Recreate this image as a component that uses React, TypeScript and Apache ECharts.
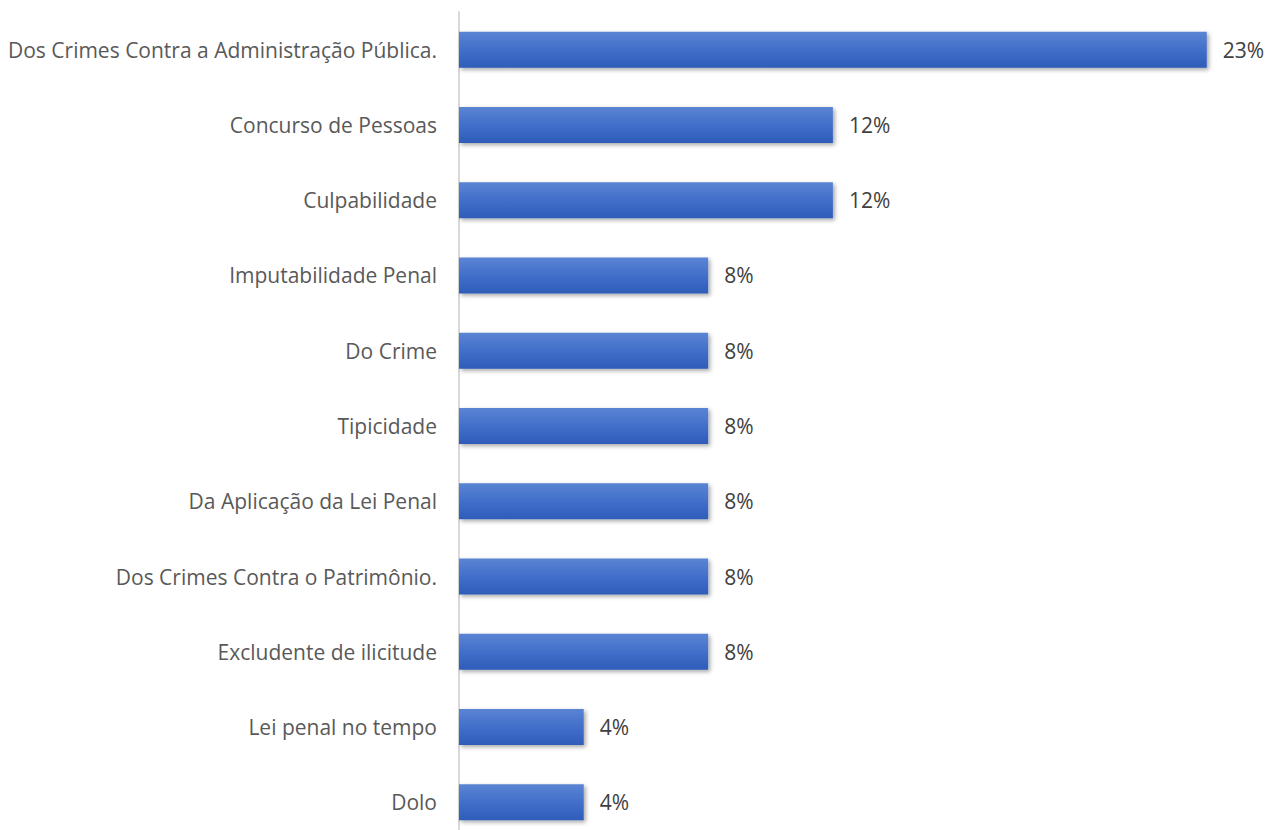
import React, { useEffect, useRef } from "react";
import * as echarts from "echarts";

const categories = [
  "Dos Crimes Contra a Administração Pública.",
  "Concurso de Pessoas",
  "Culpabilidade",
  "Imputabilidade Penal",
  "Do Crime",
  "Tipicidade",
  "Da Aplicação da Lei Penal",
  "Dos Crimes Contra o Patrimônio.",
  "Excludente de ilicitude",
  "Lei penal no tempo",
  "Dolo",
];

// percentages (counts out of 26)
const values = [23.08, 11.54, 11.54, 7.69, 7.69, 7.69, 7.69, 7.69, 7.69, 3.85, 3.85];

export default function App() {
  const ref = useRef<HTMLDivElement>(null);
  useEffect(() => {
    if (!ref.current) return;
    const chart = echarts.init(ref.current, null, { renderer: "svg" });
    const font = "Open Sans, Noto Sans, sans-serif";
    chart.setOption({
      animation: false,
      grid: {
        left: 459,
        width: 810,
        top: 12,
        height: 828,
        containLabel: false,
        outerBoundsMode: "none",
      },
      xAxis: {
        type: "value",
        min: 0,
        max: 25,
        show: false,
      },
      yAxis: {
        type: "category",
        data: categories,
        inverse: true,
        axisLine: { show: true, lineStyle: { color: "#d9d9d9", width: 2 } },
        axisTick: { show: false },
        axisLabel: {
          color: "#595959",
          fontSize: 21,
          fontFamily: font,
          margin: 22,
        },
      },
      series: [
        {
          type: "bar",
          data: values,
          barWidth: 36,
          itemStyle: {
            color: new echarts.graphic.LinearGradient(0, 0, 0, 1, [
              { offset: 0, color: "#5b84d3" },
              { offset: 0.5, color: "#416fca" },
              { offset: 1, color: "#2e5cb8" },
            ]),
            shadowColor: "rgba(0,0,0,0.35)",
            shadowBlur: 4,
            shadowOffsetX: 2,
            shadowOffsetY: 2,
          },
          label: {
            show: true,
            position: "right",
            distance: 16,
            color: "#404040",
            fontSize: 21,
            fontFamily: font,
            formatter: (p: any) => Math.round(p.value) + "%",
          },
        },
      ],
    });
    return () => chart.dispose();
  }, []);
  return (
    <div style={{ position: "fixed", left: 0, top: 0, width: 1270, height: 830, overflow: "hidden", background: "#fff" }}>
      <div ref={ref} style={{ width: 1270, height: 842 }} />
    </div>
  );
}
